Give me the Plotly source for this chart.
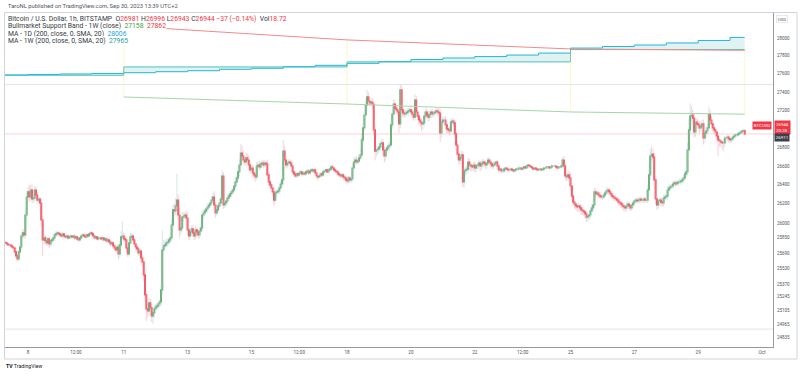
import plotly.graph_objects as go
import pandas as pd

# ---------------- DATA ----------------
start = "2023-09-07 07:00"
first_open = 25800
closes = [
    25793, 25782, 25772, 25772, 25762, 25751, 25741, 25700, 25659, 25628,
    25700, 25751, 25865, 25897, 25876, 26083, 26272, 26325, 26272, 26346,
    26251, 26261, 26346, 26293, 26240, 26251, 26209, 26031, 25824, 25845,
    25814, 25793, 25835, 25782, 25814, 25824, 25845, 25876, 25886, 25897,
    25886, 25876, 25865, 25886, 25865, 25855, 25865, 25845, 25855, 25865,
    25855, 25865, 25845, 25855, 25835, 25824, 25845, 25865, 25876, 25865,
    25855, 25876, 25865, 25886, 25897, 25886, 25865, 25845, 25855, 25835,
    25845, 25845, 25835, 25845, 25824, 25835, 25814, 25824, 25803, 25782,
    25793, 25762, 25741, 25721, 25751, 25679, 25772, 25855, 25865, 25835,
    25824, 25741, 25679, 25793, 25855, 25865, 25824, 25782, 25751, 25731,
    25690, 25710, 25638, 25598, 25465, 25262, 25120, 25100, 25181, 25130,
    25050, 25080, 25120, 25140, 25150, 25171, 25191, 25312, 25721, 25762,
    25772, 25793, 25803, 25824, 25845, 25979, 26136, 26126, 26178, 26240,
    26083, 25928, 25948, 26062, 26073, 26083, 26052, 25928, 25865, 25907,
    25938, 25897, 25865, 25928, 25907, 25876, 25917, 25948, 26083, 26104,
    26126, 26146, 26167, 26188, 26209, 26240, 26272, 26188, 26104, 26136,
    26178, 26209, 26251, 26494, 26188, 26209, 26230, 26261, 26282, 26304,
    26325, 26346, 26388, 26431, 26473, 26537, 26611, 26739, 26707, 26664,
    26643, 26686, 26664, 26611, 26558, 26579, 26526, 26505, 26484, 26600,
    26611, 26590, 26622, 26632, 26611, 26632, 26622, 26505, 26431, 26399,
    26367, 26325, 26240, 26314, 26325, 26335, 26367, 26409, 26452, 26760,
    26664, 26611, 26632, 26643, 26632, 26600, 26537, 26516, 26494, 26516,
    26505, 26526, 26537, 26516, 26526, 26516, 26537, 26547, 26526, 26547,
    26558, 26547, 26558, 26526, 26494, 26484, 26494, 26516, 26505, 26537,
    26547, 26558, 26537, 26558, 26568, 26590, 26579, 26558, 26547, 26537,
    26516, 26505, 26494, 26505, 26484, 26473, 26452, 26441, 26473, 26452,
    26462, 26579, 26643, 26664, 26643, 26654, 26686, 26718, 26879, 27009,
    27149, 27258, 27346, 27302, 27280, 27291, 27269, 26987, 26760, 26771,
    26782, 26803, 26836, 26847, 26771, 26707, 26771, 26793, 26814, 26825,
    27041, 27160, 27269, 27225, 27204, 27182, 27052, 27423, 27204, 27171,
    27160, 27171, 27182, 27193, 27204, 27182, 27160, 27127, 27313, 27182,
    27138, 27095, 27073, 27052, 27063, 27138, 27182, 27149, 27127, 27160,
    27182, 27160, 27171, 27182, 27193, 27182, 27171, 26955, 27073, 27095,
    27095, 27041, 26998, 26987, 26976, 27073, 27084, 27063, 26944, 26825,
    26728, 26664, 26686, 26718, 26431, 26547, 26558, 26568, 26643, 26611,
    26600, 26590, 26611, 26579, 26600, 26611, 26632, 26600, 26622, 26643,
    26632, 26611, 26632, 26664, 26643, 26622, 26600, 26611, 26632, 26643,
    26600, 26558, 26568, 26547, 26547, 26568, 26579, 26568, 26558, 26558,
    26568, 26558, 26547, 26558, 26568, 26568, 26579, 26579, 26568, 26579,
    26590, 26579, 26600, 26611, 26600, 26590, 26579, 26568, 26579, 26568,
    26558, 26568, 26568, 26558, 26568, 26579, 26579, 26590, 26590, 26579,
    26590, 26600, 26600, 26600, 26590, 26579, 26590, 26590, 26600, 26664,
    26600, 26494, 26484, 26505, 26473, 26388, 26282, 26219, 26198, 26178,
    26167, 26178, 26157, 26136, 26126, 26115, 26094, 26062, 26073, 26083,
    26126, 26157, 26188, 26325, 26304, 26314, 26293, 26282, 26272, 26272,
    26293, 26314, 26335, 26346, 26325, 26304, 26282, 26272, 26261, 26251,
    26240, 26219, 26209, 26198, 26178, 26167, 26157, 26178, 26198, 26178,
    26157, 26188, 26209, 26230, 26240, 26230, 26240, 26251, 26240, 26240,
    26251, 26240, 26240, 26346, 26505, 26707, 26728, 26696, 26452, 26251,
    26188, 26230, 26240, 26219, 26209, 26261, 26272, 26282, 26346, 26367,
    26378, 26388, 26409, 26420, 26409, 26420, 26431, 26431, 26441, 26452,
    26473, 26516, 26537, 26771, 26987, 27138, 27149, 27116, 26965, 27073,
    27052, 27041, 27009, 27030, 27052, 26900, 26955, 26976, 27009, 27160,
    27095, 27052, 27009, 26987, 26965, 26922, 26879, 26868, 26857, 26847,
    26847, 26900, 26900, 26911, 26890, 26879, 26890, 26911, 26922, 26933,
    26933, 26944, 26955, 26965, 26976, 26981, 26944,
]
wick_up = [
    15, 10, 12, 20, 8, 14, 10, 18, 25, 15,
    20, 30, 25, 40, 35, 60, 70, 55, 80, 45,
    60, 50, 40, 35, 30, 25, 20, 40, 30, 25,
    30, 45, 20, 25, 15, 20, 18, 25, 30, 22,
    15, 20, 12, 18, 15, 10, 14, 20, 12, 16,
    10, 14, 18, 12, 15, 20, 16, 12, 18, 14,
    12, 16, 20, 15, 18, 14, 10, 12, 16, 10,
    14, 12, 10, 16, 12, 14, 18, 12, 15, 20,
    18, 15, 22, 25, 30, 20, 40, 60, 150, 35,
    25, 30, 40, 50, 45, 30, 20, 25, 18, 22,
    25, 30, 20, 35, 40, 60, 45, 55, 50, 40,
    45, 50, 35, 30, 25, 20, 30, 60, 200, 60,
    50, 40, 35, 30, 45, 60, 50, 70, 80, 280,
    60, 80, 70, 50, 40, 35, 45, 60, 50, 40,
    35, 40, 30, 45, 35, 30, 40, 35, 50, 30,
    25, 30, 35, 20, 25, 40, 45, 60, 30, 25,
    30, 35, 40, 60, 40, 30, 25, 35, 30, 25,
    30, 25, 35, 40, 30, 45, 60, 100, 80, 50,
    40, 60, 45, 50, 35, 30, 40, 25, 30, 45,
    35, 40, 30, 25, 35, 30, 25, 40, 30, 25,
    20, 30, 40, 35, 25, 30, 25, 35, 50, 120,
    60, 40, 35, 30, 25, 30, 20, 15, 25, 20,
    15, 20, 25, 15, 20, 18, 15, 22, 20, 15,
    18, 20, 15, 22, 25, 20, 15, 18, 20, 25,
    20, 15, 18, 22, 15, 20, 25, 15, 18, 20,
    15, 20, 18, 15, 20, 25, 18, 15, 20, 22,
    25, 40, 50, 35, 40, 30, 45, 60, 70, 60,
    50, 60, 80, 50, 40, 35, 45, 30, 60, 40,
    35, 40, 30, 45, 35, 40, 30, 25, 35, 40,
    50, 60, 55, 40, 35, 30, 40, 65, 50, 40,
    35, 30, 40, 35, 30, 25, 35, 40, 65, 45,
    40, 35, 30, 40, 45, 50, 40, 35, 40, 30,
    35, 30, 25, 30, 35, 30, 40, 45, 50, 40,
    35, 40, 30, 25, 35, 40, 30, 25, 30, 35,
    40, 30, 35, 45, 40, 30, 35, 40, 50, 35,
    30, 25, 35, 30, 25, 30, 35, 25, 30, 35,
    25, 30, 20, 35, 25, 20, 25, 30, 20, 25,
    20, 15, 18, 12, 15, 18, 12, 15, 10, 14,
    12, 15, 10, 14, 12, 10, 15, 12, 14, 10,
    12, 15, 18, 14, 10, 12, 15, 10, 12, 14,
    10, 12, 14, 10, 12, 15, 10, 12, 14, 10,
    12, 15, 10, 14, 12, 10, 15, 12, 20, 30,
    40, 35, 30, 45, 40, 50, 35, 30, 25, 30,
    25, 30, 20, 25, 30, 20, 25, 30, 35, 25,
    30, 40, 50, 45, 35, 30, 25, 30, 20, 25,
    30, 25, 35, 30, 25, 20, 25, 30, 20, 25,
    20, 25, 30, 20, 25, 30, 20, 35, 30, 25,
    20, 25, 30, 25, 20, 25, 30, 20, 25, 20,
    25, 20, 30, 50, 60, 80, 90, 60, 40, 35,
    30, 35, 25, 30, 25, 35, 30, 25, 40, 35,
    30, 25, 35, 30, 25, 30, 25, 35, 30, 25,
    30, 35, 40, 80, 120, 140, 100, 60, 50, 45,
    40, 50, 35, 45, 40, 50, 35, 40, 45, 76,
    50, 40, 35, 30, 25, 30, 25, 30, 20, 25,
    30, 25, 20, 25, 20, 15, 20, 15, 18, 15,
    12, 15, 10, 14, 12, 15, 15,
]
wick_dn = [
    12, 15, 10, 18, 14, 20, 15, 25, 30, 25,
    20, 25, 30, 35, 40, 30, 45, 40, 50, 35,
    40, 45, 35, 40, 30, 35, 40, 60, 170, 40,
    35, 30, 25, 40, 30, 20, 25, 30, 20, 25,
    20, 15, 22, 18, 25, 15, 20, 18, 15, 20,
    15, 18, 20, 15, 22, 18, 15, 20, 14, 18,
    15, 20, 18, 14, 16, 20, 15, 18, 14, 16,
    18, 15, 20, 16, 14, 18, 20, 15, 18, 25,
    20, 25, 30, 25, 20, 60, 35, 30, 25, 30,
    35, 40, 30, 25, 20, 30, 35, 25, 30, 28,
    30, 35, 40, 45, 60, 80, 120, 60, 50, 70,
    60, 80, 50, 40, 35, 30, 40, 45, 50, 40,
    35, 30, 40, 35, 30, 40, 45, 50, 40, 35,
    60, 80, 50, 45, 40, 35, 50, 60, 45, 40,
    35, 40, 45, 35, 30, 40, 35, 30, 40, 35,
    30, 25, 35, 30, 25, 30, 35, 50, 45, 30,
    25, 30, 35, 50, 40, 30, 25, 30, 35, 25,
    30, 25, 30, 35, 40, 35, 45, 50, 60, 45,
    40, 35, 45, 50, 40, 35, 45, 40, 50, 35,
    30, 35, 25, 30, 35, 25, 30, 45, 40, 35,
    30, 40, 60, 35, 30, 25, 30, 35, 40, 50,
    45, 40, 30, 35, 25, 30, 35, 30, 25, 20,
    25, 20, 15, 25, 20, 18, 22, 15, 20, 18,
    15, 20, 18, 25, 30, 40, 20, 15, 18, 20,
    15, 18, 20, 15, 18, 22, 15, 20, 18, 15,
    20, 18, 25, 20, 30, 25, 35, 40, 25, 30,
    35, 30, 25, 30, 25, 20, 30, 25, 35, 40,
    30, 40, 35, 45, 40, 35, 50, 60, 100, 60,
    50, 45, 40, 35, 60, 70, 50, 40, 35, 40,
    30, 40, 35, 50, 45, 40, 100, 50, 60, 45,
    40, 35, 30, 40, 35, 45, 50, 40, 35, 50,
    45, 50, 55, 80, 60, 40, 35, 45, 50, 40,
    35, 40, 30, 35, 30, 35, 40, 100, 50, 45,
    40, 50, 45, 40, 50, 35, 40, 45, 50, 55,
    60, 50, 45, 40, 55, 60, 50, 45, 40, 50,
    60, 45, 40, 50, 45, 35, 40, 60, 45, 40,
    35, 40, 45, 30, 35, 40, 30, 35, 25, 30,
    35, 30, 25, 20, 25, 18, 20, 15, 18, 20,
    15, 18, 20, 15, 12, 15, 18, 14, 15, 12,
    14, 12, 15, 18, 14, 12, 15, 14, 12, 15,
    12, 15, 14, 12, 15, 14, 12, 15, 12, 14,
    15, 12, 14, 12, 15, 14, 12, 15, 14, 20,
    30, 40, 45, 35, 40, 50, 40, 35, 45, 40,
    50, 45, 40, 50, 45, 40, 50, 52, 45, 40,
    35, 40, 30, 35, 40, 30, 35, 30, 25, 30,
    25, 30, 25, 35, 30, 25, 30, 35, 30, 25,
    30, 35, 30, 40, 35, 45, 40, 35, 30, 40,
    35, 30, 25, 30, 25, 30, 25, 30, 25, 30,
    25, 30, 25, 30, 40, 50, 45, 60, 80, 60,
    50, 40, 35, 45, 40, 35, 30, 35, 30, 25,
    30, 25, 30, 25, 30, 25, 30, 25, 30, 25,
    30, 25, 30, 40, 50, 45, 60, 70, 60, 50,
    45, 50, 60, 45, 50, 70, 50, 45, 40, 50,
    45, 50, 40, 45, 50, 60, 170, 60, 50, 70,
    90, 50, 40, 35, 40, 35, 30, 25, 20, 25,
    20, 15, 18, 15, 20, 15, 1,
]

ma_day_start = "2023-09-07"
ma1d_values = [27588, 27594, 27599, 27605, 27613, 27624, 27635, 27651,
               27662, 27679, 27695, 27717, 27735, 27759, 27776, 27792,
               27809, 27831, 27887, 27904, 27921, 27944, 27972, 28006]
week_starts = ["2023-09-04", "2023-09-11", "2023-09-18", "2023-09-25"]
ma1w_values = [27585, 27677, 27733, 27870]

band_dates = ["2023-09-11 00:00", "2023-09-18 00:00", "2023-09-25 00:00", "2023-09-30 11:00"]
band_ema = [28135, 27978, 27877, 27862]   # red
band_sma = [27346, 27269, 27182, 27158]   # green

hline_levels = [27483, 24918]
last_price = 26944

ytick_vals = [24835, 24965, 25105, 25245, 25370, 25530, 25690, 25850, 26000,
              26200, 26400, 26600, 26800, 27200, 27400, 27600, 27800, 28000]
xtick_vals = ["2023-09-08", "2023-09-09 12:00", "2023-09-11", "2023-09-13",
              "2023-09-15", "2023-09-16 12:00", "2023-09-18", "2023-09-20",
              "2023-09-22", "2023-09-23 12:00", "2023-09-25", "2023-09-27",
              "2023-09-29", "2023-10-01"]
xtick_text = ["8", "12:00", "11", "13", "15", "12:00", "18", "20", "22",
              "12:00", "25", "27", "29", "Oct"]

# ---------------- BUILD ----------------
times = pd.date_range(start, periods=len(closes), freq="h")
opens = [first_open] + closes[:-1]
body_hi = [max(o, c) for o, c in zip(opens, closes)]
body_lo = [min(o, c) for o, c in zip(opens, closes)]
highs = [b + w for b, w in zip(body_hi, wick_up)]
lows = [b - w for b, w in zip(body_lo, wick_dn)]

UP = "#43a047"
DN = "#f23645"
FONT = "Roboto"

fig = go.Figure()

# MA step lines (daily sampling)
days = pd.date_range(ma_day_start, periods=len(ma1d_values), freq="D")
wk = pd.to_datetime(week_starts)
ma1w_daily = []
for d in days:
    idx = max(i for i, w in enumerate(wk) if w <= d)
    ma1w_daily.append(ma1w_values[idx])
xs = list(days) + [times[-1]]
fig.add_trace(go.Scatter(x=xs, y=ma1w_daily + [ma1w_daily[-1]], mode="lines",
                         line=dict(color="#4cc3b6", width=1, shape="hv"),
                         hoverinfo="skip", showlegend=False))
fig.add_trace(go.Scatter(x=xs, y=ma1d_values + [ma1d_values[-1]], mode="lines",
                         line=dict(color="#22b5d8", width=1, shape="hv"),
                         fill="tonexty", fillcolor="rgba(38,166,154,0.14)",
                         hoverinfo="skip", showlegend=False))

# band fill edges (yellow verticals)
vx, vy = [], []
for d, a, b in zip(band_dates, band_ema, band_sma):
    vx += [d, d, None]
    vy += [a, b, None]
fig.add_trace(go.Scatter(x=vx, y=vy, mode="lines",
                         line=dict(color="rgba(255,230,80,0.3)", width=1),
                         hoverinfo="skip", showlegend=False))
fig.add_trace(go.Scatter(x=band_dates, y=band_ema, mode="lines",
                         line=dict(color="#f28b8b", width=1),
                         hoverinfo="skip", showlegend=False))
fig.add_trace(go.Scatter(x=band_dates, y=band_sma, mode="lines",
                         line=dict(color="#a5d6a7", width=1),
                         hoverinfo="skip", showlegend=False))

xr0 = pd.Timestamp("2023-09-07 06:42")
xr1 = pd.Timestamp("2023-10-01 08:18")
for lv in hline_levels:
    fig.add_trace(go.Scatter(x=[xr0, xr1], y=[lv, lv], mode="lines",
                             line=dict(color="#e3e5ea", width=1),
                             hoverinfo="skip", showlegend=False))
fig.add_trace(go.Scatter(x=[xr0, xr1], y=[last_price, last_price], mode="lines",
                         line=dict(color="rgba(242,54,69,0.22)", width=1),
                         hoverinfo="skip", showlegend=False))

# wicks
for up, col in ((True, "rgba(190,212,224,0.6)"), (False, "rgba(245,170,178,0.55)")):
    wx, wy = [], []
    for t, o, c, h, l in zip(times, opens, closes, highs, lows):
        if (c >= o) == up:
            wx += [t, t, None]
            wy += [l, h, None]
    fig.add_trace(go.Scatter(x=wx, y=wy, mode="lines",
                             line=dict(color=col, width=1),
                             hoverinfo="skip", showlegend=False))

# bodies
fig.add_trace(go.Candlestick(x=times, open=opens, high=body_hi, low=body_lo, close=closes,
                             increasing=dict(line=dict(color=UP, width=1.2), fillcolor=UP),
                             decreasing=dict(line=dict(color=DN, width=1.2), fillcolor=DN),
                             hoverinfo="skip", showlegend=False))

# ---------------- LAYOUT ----------------
L, R, T, B = 5, 27, 13, 28
W, H = 800, 375
pw, ph = W - L - R, H - T - B


def pxx(x):
    return (x - L) / pw


def pyy(y):
    return (H - B - y) / ph


fig.update_layout(
    width=W, height=H, margin=dict(l=L, r=R, t=T, b=B),
    paper_bgcolor="white", plot_bgcolor="white",
    font=dict(family=FONT, color="#131722"),
    xaxis=dict(type="date", range=[xr0, xr1], tickvals=xtick_vals, ticktext=xtick_text,
               tickfont=dict(size=4.6, color="#50535e"), ticks="", showgrid=False,
               showline=True, linecolor="#9598a1", linewidth=1, zeroline=False,
               rangeslider=dict(visible=False), fixedrange=True),
    yaxis=dict(type="log", side="right", range=[4.39340, 4.45150],
               tickvals=ytick_vals, ticktext=[str(v) for v in ytick_vals],
               tickfont=dict(size=4.5, color="#50535e"), ticks="", ticklabelstandoff=2,
               showgrid=False, showline=True, linecolor="#9598a1", linewidth=1,
               zeroline=False, fixedrange=True),
)

shapes = [
    dict(type="rect", xref="paper", yref="paper", x0=pxx(4.5), x1=pxx(797),
         y0=pyy(359), y1=pyy(12.5), line=dict(color="#d1d4dc", width=1)),
]
fig.update_layout(shapes=shapes)

ann = []
ann.append(dict(text="TaroNL published on TradingView.com, Sep 30, 2023 13:39 UTC+2",
                x=pxx(6), y=pyy(5.5), xanchor="left", yanchor="middle",
                font=dict(size=5.8, color="#50535e")))
red = "#f23645"
l1 = ("Bitcoin / U.S. Dollar, 1h, BITSTAMP  "
      f"O<span style='color:{red}'>26981</span> H<span style='color:{red}'>26996</span> "
      f"L<span style='color:{red}'>26943</span> C<span style='color:{red}'>26944</span> "
      f"<span style='color:{red}'>\u221237 (\u22120.14%)</span>  Vol<span style='color:{red}'>18.72</span>")
l2 = ("Bullmarket Support Band - 1W (close)  "
      "<span style='color:#43a047'>27158</span>  <span style='color:#f23645'>27862</span>")
l3 = "MA - 1D (200, close, 0, SMA, 20)  <span style='color:#22a7e0'>28006</span>"
l4 = "MA - 1W (200, close, 0, SMA, 20)  <span style='color:#26a69a'>27965</span>"
for txt, yy in ((l1, 19), (l2, 26.3), (l3, 33.6), (l4, 40.9)):
    ann.append(dict(text=txt, x=pxx(7), y=pyy(yy), xanchor="left", yanchor="middle",
                    font=dict(size=6.8, color="#363a45"), bgcolor="white", borderpad=0))
# right axis labels
ann.append(dict(text="USD", x=pxx(775.5), y=pyy(19), xanchor="left", yanchor="middle",
                font=dict(size=4.4, color="#50535e"), bgcolor="white",
                bordercolor="#d1d4dc", borderwidth=0.5, borderpad=1.2))
ann.append(dict(text="26944<br>20:28", x=pxx(773.5), y=pyy(127.5), xanchor="left",
                yanchor="middle", align="left", font=dict(size=4.4, color="white"),
                bgcolor=red, borderpad=1))
ann.append(dict(text="26911", x=pxx(773.5), y=pyy(137), xanchor="left", yanchor="middle",
                font=dict(size=4.4, color="white"), bgcolor="#3c3f4a", borderpad=0.8))
ann.append(dict(text="BTCUSD", x=pxx(772), y=pyy(125.5), xanchor="right", yanchor="middle",
                font=dict(size=4.4, color="white"), bgcolor=red, borderpad=0.8))
ann.append(dict(text="<b>TV</b> TradingView", x=pxx(4), y=pyy(366), xanchor="left",
                yanchor="middle", font=dict(size=5.2, color="#131722")))
for a in ann:
    a.setdefault("xref", "paper")
    a.setdefault("yref", "paper")
    a.setdefault("showarrow", False)
fig.update_layout(annotations=ann)

fig.write_html("out.html", config={"displayModeBar": False},
               post_script="document.body.style.margin='0';document.body.style.overflow='hidden';")
